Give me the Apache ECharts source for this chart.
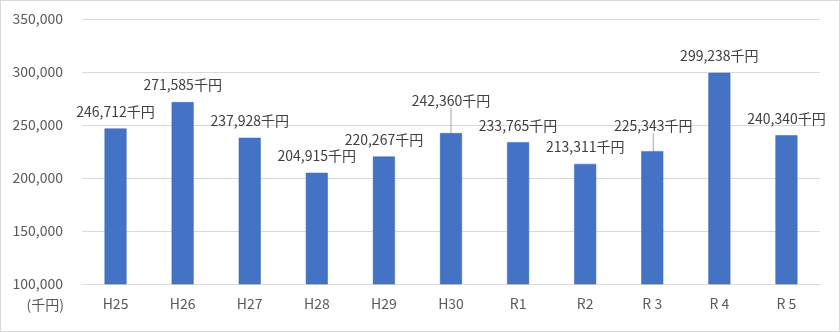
<!DOCTYPE html>
<html><head><meta charset="utf-8">
<script src="https://cdn.jsdelivr.net/npm/echarts@6/dist/echarts.min.js"></script>
<style>html,body{margin:0;padding:0;background:#fff}#c{position:absolute;left:0;top:0;width:838px;height:330px;border:1px solid #d9d9d9}</style>
</head><body><div id="c"></div>
<script>
var categories = ['H25','H26','H27','H28','H29','H30','R1','R2','R 3','R 4','R 5'];
var values = [246712,271585,237928,204915,220267,242360,233765,213311,225343,299238,240340];
var yTicks = {min:100000, max:350000, interval:50000};
var unitLabel = '(千円)';
var FONT = '"Noto Sans CJK JP","Noto Sans",sans-serif';
var leaderIdx = [5, 8];
var chart = echarts.init(document.getElementById('c'));
chart.setOption({
  animation:false,
  grid:{left:81,right:19,top:18,bottom:47},
  xAxis:{type:'category',data:categories,
    axisLine:{lineStyle:{color:'#d9d9d9'}},axisTick:{show:false},
    axisLabel:{color:'#595959',fontSize:14,fontFamily:FONT,margin:13}},
  yAxis:{type:'value',min:yTicks.min,max:yTicks.max,interval:yTicks.interval,
    axisLine:{show:false},axisTick:{show:false},
    splitLine:{lineStyle:{color:'#d9d9d9'}},
    axisLabel:{color:'#595959',fontSize:14,fontFamily:FONT,margin:19,
      formatter:function(v){return v.toLocaleString('en-US');}}},
  graphic:[{type:'text',x:63,y:297,style:{text:unitLabel,fill:'#595959',font:'14px '+FONT,align:'right'}}],
  series:[{type:'bar',
    data:values.map(function(v,i){
      return leaderIdx.indexOf(i)>=0 ? {value:v,labelLine:{show:true}} : {value:v,labelLine:{show:false}};
    }),
    barWidth:22,
    itemStyle:{color:'#4472c4',borderColor:'#3a66b5',borderWidth:0.5},
    label:{show:true,position:'top',distance:10,color:'#404040',fontSize:14,fontFamily:FONT,
      formatter:function(p){return p.value.toLocaleString('en-US')+'千円';}},
    labelLine:{show:false,lineStyle:{color:'#a6a6a6',width:1}},
    labelLayout:function(p){
      if(p.dataIndex===5) return {dy:-15};
      if(p.dataIndex===8) return {dx:1,dy:-8};
      return {};
    }
  }]
});
</script></body></html>
